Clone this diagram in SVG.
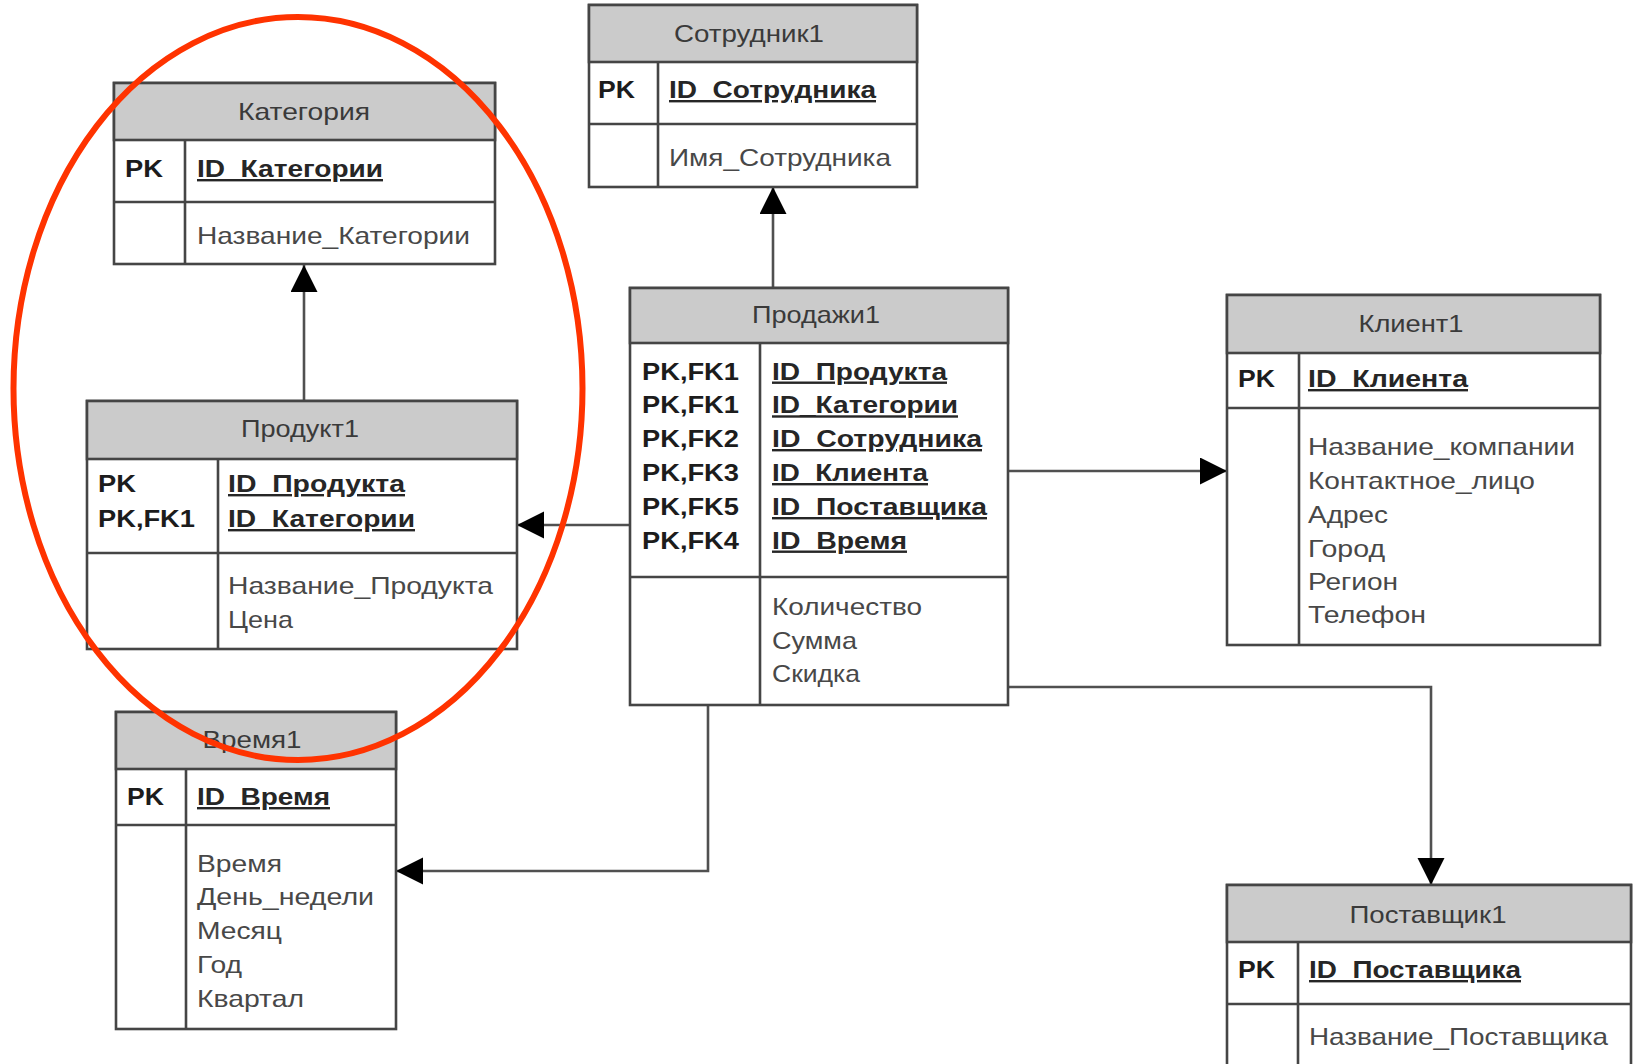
<svg xmlns="http://www.w3.org/2000/svg" width="1633" height="1064" viewBox="0 0 1633 1064">
  <style>
    .box { fill: #ffffff; stroke: #454545; stroke-width: 2.6; }
    .hdr { fill: #cbcbcb; stroke: #454545; stroke-width: 2.6; }
    .sep { stroke: #454545; stroke-width: 2.6; fill: none; }
    text { font-family: "Liberation Sans", Arial, sans-serif; font-size: 24px; }
    .ttl { fill: #3a3a3a; text-anchor: middle; }
    .pk { fill: #1c1c1c; font-weight: bold; }
    .id { fill: #262626; font-weight: bold; text-decoration: underline; }
    .fld { fill: #484848; }
    .conn { stroke: #505050; stroke-width: 2.6; fill: none; marker-end: url(#arrow); }
    .mark { fill: none; stroke: #ff3300; stroke-width: 6; }
  </style>
  <defs>
    <marker id="arrow" markerUnits="userSpaceOnUse" markerWidth="28" markerHeight="28" refX="27" refY="13.5" orient="auto">
      <path d="M0,0 L27,13.5 L0,27 z" fill="#000"/>
    </marker>
  </defs>

  <rect width="1633" height="1064" fill="#ffffff"/>

  <!-- relationships -->
  <g id="connectors">
    <path class="conn" d="M304,401 L304,265"/>
    <path class="conn" d="M773,289 L773,187"/>
    <path class="conn" d="M630,525 L517,525"/>
    <path class="conn" d="M1008,471 L1227,471"/>
    <path class="conn" d="M1008,687 L1431,687 L1431,885"/>
    <path class="conn" d="M708,705 L708,871 L396,871"/>
  </g>

  <!-- Категория -->
  <g id="kategoriya">
    <rect class="box" x="114" y="83" width="381" height="181"/>
    <rect class="hdr" x="114" y="83" width="381" height="57"/>
    <line class="sep" x1="114" y1="202" x2="495" y2="202"/>
    <line class="sep" x1="185" y1="140" x2="185" y2="264"/>
    <text class="ttl" x="304" y="120" textLength="132" lengthAdjust="spacingAndGlyphs">Категория</text>
    <text class="pk" x="125" y="177" textLength="38" lengthAdjust="spacingAndGlyphs">PK</text>
    <text class="id" x="197" y="177" textLength="186" lengthAdjust="spacingAndGlyphs">ID_Категории</text>
    <text class="fld" x="197" y="244" textLength="273" lengthAdjust="spacingAndGlyphs">Название_Категории</text>
  </g>

  <!-- Продукт1 -->
  <g id="produkt1">
    <rect class="box" x="87" y="401" width="430" height="248"/>
    <rect class="hdr" x="87" y="401" width="430" height="58"/>
    <line class="sep" x1="87" y1="553" x2="517" y2="553"/>
    <line class="sep" x1="218" y1="459" x2="218" y2="649"/>
    <text class="ttl" x="300" y="437" textLength="118" lengthAdjust="spacingAndGlyphs">Продукт1</text>
    <text class="pk" x="98" y="492" textLength="38" lengthAdjust="spacingAndGlyphs">PK</text>
    <text class="pk" x="98" y="527" textLength="97" lengthAdjust="spacingAndGlyphs">PK,FK1</text>
    <text class="id" x="228" y="492" textLength="177" lengthAdjust="spacingAndGlyphs">ID_Продукта</text>
    <text class="id" x="228" y="527" textLength="187" lengthAdjust="spacingAndGlyphs">ID_Категории</text>
    <text class="fld" x="228" y="594" textLength="265" lengthAdjust="spacingAndGlyphs">Название_Продукта</text>
    <text class="fld" x="228" y="628" textLength="65" lengthAdjust="spacingAndGlyphs">Цена</text>
  </g>

  <!-- Сотрудник1 -->
  <g id="sotrudnik1">
    <rect class="box" x="589" y="5" width="328" height="182"/>
    <rect class="hdr" x="589" y="5" width="328" height="57"/>
    <line class="sep" x1="589" y1="124" x2="917" y2="124"/>
    <line class="sep" x1="658" y1="62" x2="658" y2="187"/>
    <text class="ttl" x="749" y="42" textLength="150" lengthAdjust="spacingAndGlyphs">Сотрудник1</text>
    <text class="pk" x="598" y="98" textLength="37" lengthAdjust="spacingAndGlyphs">PK</text>
    <text class="id" x="669" y="98" textLength="207" lengthAdjust="spacingAndGlyphs">ID_Сотрудника</text>
    <text class="fld" x="669" y="166" textLength="222" lengthAdjust="spacingAndGlyphs">Имя_Сотрудника</text>
  </g>

  <!-- Продажи1 -->
  <g id="prodazhi1">
    <rect class="box" x="630" y="288" width="378" height="417"/>
    <rect class="hdr" x="630" y="288" width="378" height="55"/>
    <line class="sep" x1="630" y1="577" x2="1008" y2="577"/>
    <line class="sep" x1="760" y1="343" x2="760" y2="705"/>
    <text class="ttl" x="816" y="323" textLength="128" lengthAdjust="spacingAndGlyphs">Продажи1</text>
    <text class="pk" x="642" y="379.5" textLength="97" lengthAdjust="spacingAndGlyphs">PK,FK1</text>
    <text class="pk" x="642" y="413.3" textLength="97" lengthAdjust="spacingAndGlyphs">PK,FK1</text>
    <text class="pk" x="642" y="447" textLength="97" lengthAdjust="spacingAndGlyphs">PK,FK2</text>
    <text class="pk" x="642" y="481" textLength="97" lengthAdjust="spacingAndGlyphs">PK,FK3</text>
    <text class="pk" x="642" y="515" textLength="97" lengthAdjust="spacingAndGlyphs">PK,FK5</text>
    <text class="pk" x="642" y="548.5" textLength="97" lengthAdjust="spacingAndGlyphs">PK,FK4</text>
    <text class="id" x="772" y="379.5" textLength="175" lengthAdjust="spacingAndGlyphs">ID_Продукта</text>
    <text class="id" x="772" y="413.3" textLength="186" lengthAdjust="spacingAndGlyphs">ID_Категории</text>
    <text class="id" x="772" y="447" textLength="210" lengthAdjust="spacingAndGlyphs">ID_Сотрудника</text>
    <text class="id" x="772" y="481" textLength="156" lengthAdjust="spacingAndGlyphs">ID_Клиента</text>
    <text class="id" x="772" y="515" textLength="215" lengthAdjust="spacingAndGlyphs">ID_Поставщика</text>
    <text class="id" x="772" y="548.5" textLength="135" lengthAdjust="spacingAndGlyphs">ID_Время</text>
    <text class="fld" x="772" y="615" textLength="150" lengthAdjust="spacingAndGlyphs">Количество</text>
    <text class="fld" x="772" y="649" textLength="85" lengthAdjust="spacingAndGlyphs">Сумма</text>
    <text class="fld" x="772" y="682" textLength="88" lengthAdjust="spacingAndGlyphs">Скидка</text>
  </g>

  <!-- Клиент1 -->
  <g id="klient1">
    <rect class="box" x="1227" y="295" width="373" height="350"/>
    <rect class="hdr" x="1227" y="295" width="373" height="58"/>
    <line class="sep" x1="1227" y1="408" x2="1600" y2="408"/>
    <line class="sep" x1="1299" y1="353" x2="1299" y2="645"/>
    <text class="ttl" x="1411" y="332" textLength="105" lengthAdjust="spacingAndGlyphs">Клиент1</text>
    <text class="pk" x="1238" y="387" textLength="37" lengthAdjust="spacingAndGlyphs">PK</text>
    <text class="id" x="1308" y="387" textLength="160" lengthAdjust="spacingAndGlyphs">ID_Клиента</text>
    <text class="fld" x="1308" y="455" textLength="267" lengthAdjust="spacingAndGlyphs">Название_компании</text>
    <text class="fld" x="1308" y="489" textLength="227" lengthAdjust="spacingAndGlyphs">Контактное_лицо</text>
    <text class="fld" x="1308" y="523" textLength="80" lengthAdjust="spacingAndGlyphs">Адрес</text>
    <text class="fld" x="1308" y="557" textLength="77" lengthAdjust="spacingAndGlyphs">Город</text>
    <text class="fld" x="1308" y="590" textLength="90" lengthAdjust="spacingAndGlyphs">Регион</text>
    <text class="fld" x="1308" y="623" textLength="118" lengthAdjust="spacingAndGlyphs">Телефон</text>
  </g>

  <!-- Время1 -->
  <g id="vremya1">
    <rect class="box" x="116" y="712" width="280" height="317"/>
    <rect class="hdr" x="116" y="712" width="280" height="57"/>
    <line class="sep" x1="116" y1="825" x2="396" y2="825"/>
    <line class="sep" x1="186" y1="769" x2="186" y2="1029"/>
    <text class="ttl" x="252" y="748" textLength="99" lengthAdjust="spacingAndGlyphs">Время1</text>
    <text class="pk" x="127" y="805" textLength="37" lengthAdjust="spacingAndGlyphs">PK</text>
    <text class="id" x="197" y="805" textLength="133" lengthAdjust="spacingAndGlyphs">ID_Время</text>
    <text class="fld" x="197" y="872" textLength="85" lengthAdjust="spacingAndGlyphs">Время</text>
    <text class="fld" x="197" y="905" textLength="177" lengthAdjust="spacingAndGlyphs">День_недели</text>
    <text class="fld" x="197" y="939" textLength="85" lengthAdjust="spacingAndGlyphs">Месяц</text>
    <text class="fld" x="197" y="973" textLength="45" lengthAdjust="spacingAndGlyphs">Год</text>
    <text class="fld" x="197" y="1007" textLength="107" lengthAdjust="spacingAndGlyphs">Квартал</text>
  </g>

  <!-- Поставщик1 -->
  <g id="postavshchik1">
    <rect class="box" x="1227" y="885" width="404" height="200"/>
    <rect class="hdr" x="1227" y="885" width="404" height="57"/>
    <line class="sep" x1="1227" y1="1004" x2="1631" y2="1004"/>
    <line class="sep" x1="1298" y1="942" x2="1298" y2="1085"/>
    <text class="ttl" x="1428" y="923" textLength="157" lengthAdjust="spacingAndGlyphs">Поставщик1</text>
    <text class="pk" x="1238" y="978" textLength="37" lengthAdjust="spacingAndGlyphs">PK</text>
    <text class="id" x="1309" y="978" textLength="212" lengthAdjust="spacingAndGlyphs">ID_Поставщика</text>
    <text class="fld" x="1309" y="1045" textLength="299" lengthAdjust="spacingAndGlyphs">Название_Поставщика</text>
  </g>

  <!-- highlight around the product/category pair -->
  <ellipse class="mark" cx="298" cy="388.5" rx="284.5" ry="371.5"/>
</svg>
